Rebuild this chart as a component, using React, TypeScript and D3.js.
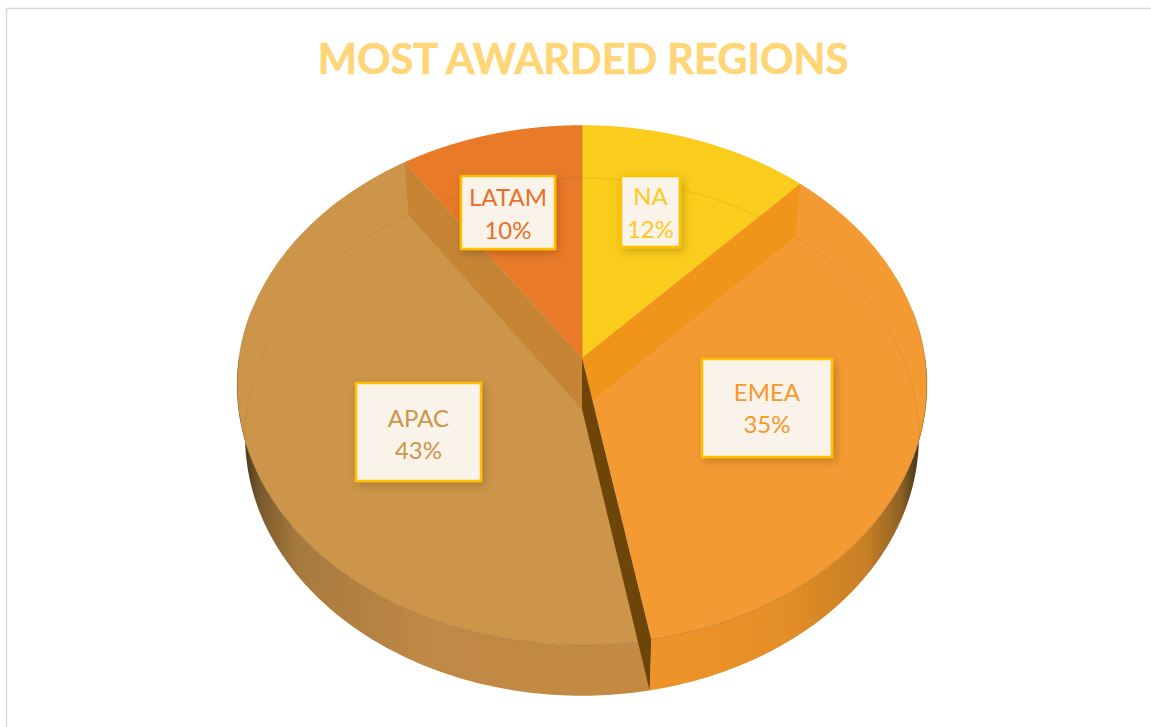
import React from "react";
import * as d3 from "d3";

const categories = ["NA", "EMEA", "APAC", "LATAM"];
const shares = [12, 35.1, 43.4, 9.5];
const sliceColors = ["#FACC1C", "#F49A32", "#CC9549", "#E87A28"];
const textColors = ["#FFC91E", "#F7982C", "#CC9549", "#E8702A"];
const wallColors = ["none", "#F0941A", "#6E4509", "#C68435"];
const title = "MOST AWARDED REGIONS";

// layout of the label boxes: x, y, w, h, two baselines
const labelBoxes = [
  [621, 176, 59, 71, 205, 238],
  [702, 359, 130, 98, 401, 433],
  [356, 383, 125, 98, 427, 459],
  [461, 176, 94, 73, 206, 239],
];

const K = 0.104;
const makeProj = (cx: number, cy: number, b: number, a: number) => (angle: number): [number, number] => {
  const X = Math.sin(angle);
  const Y = -Math.cos(angle);
  const d = 1 - K * Y;
  return [cx + (b * X) / d, cy + (a * Y) / d];
};
const CX = 582;
const topC: [number, number] = [CX, 358];
const botC: [number, number] = [CX, 409];
const topP = makeProj(CX, 358, 343, 257);
const botP = makeProj(CX, 410, 335, 256);

const arcPts = (p: (a: number) => [number, number], a0: number, a1: number) =>
  d3.range(0, 121).map((i) => p(a0 + ((a1 - a0) * i) / 120));

const line = d3.line().curve(d3.curveLinear);
const pieGen = d3.pie<number>().sort(null);
const arcs = pieGen(shares);
const TAU = Math.PI * 2;
const leftA = TAU * 0.75;

export default function App() {
  const [na, emea, apac, latam] = arcs;
  const wall = (a: number) => line([topC, topP(a), botP(a), botC])! + "Z";
  const rim = (a0: number, a1: number) =>
    line([...arcPts(topP, a0, a1), ...arcPts(botP, a1, a0)])! + "Z";
  const slice = (s: d3.PieArcDatum<number>) =>
    line([topC, ...arcPts(topP, s.startAngle, s.endAngle)])! + "Z";
  return (
    <svg
      width={1151}
      height={727}
      style={{ position: "absolute", left: 0, top: 0, display: "block", background: "#fff" }}
    >
      <defs>
        <linearGradient id="rimL" gradientUnits="userSpaceOnUse" x1={240} x2={650} y1={0} y2={0}>
          <stop offset="0" stopColor="#3E3018" />
          <stop offset="0.05" stopColor="#7A5A2C" />
          <stop offset="0.14" stopColor="#A67A3E" />
          <stop offset="0.45" stopColor="#BF8845" />
          <stop offset="1" stopColor="#C48A42" />
        </linearGradient>
        <linearGradient id="rimR" gradientUnits="userSpaceOnUse" x1={650} x2={920} y1={0} y2={0}>
          <stop offset="0" stopColor="#EE9429" />
          <stop offset="0.5" stopColor="#E48E27" />
          <stop offset="0.8" stopColor="#C87F25" />
          <stop offset="0.93" stopColor="#8E6224" />
          <stop offset="1" stopColor="#3E3018" />
        </linearGradient>
        <filter id="sh" x="-20%" y="-20%" width="140%" height="140%">
          <feDropShadow dx="2" dy="3" stdDeviation="4" floodColor="#000" floodOpacity="0.2" />
        </filter>
      </defs>

      <path d="M6.5 727V8.5H1151" fill="none" stroke="#D9D9D9" strokeWidth={1.5} />
      <text
        x={583}
        y={74}
        textAnchor="middle"
        fontFamily="Lato, 'Open Sans', sans-serif"
        fontWeight={700}
        fontSize={41.6}
        fill="#FFD677"
        stroke="#FFD677"
        strokeWidth={0.6}
      >
        {title}
      </text>

      <path d={rim(apac.startAngle, leftA)} fill="url(#rimL)" />
      <path d={rim(TAU * 0.25, emea.endAngle)} fill="url(#rimR)" />

      {arcs.map((s, i) => (
        <path key={categories[i]} d={slice(s)} fill={sliceColors[i]} />
      ))}

      {/* far disc edge seen through the translucent top */}
      <path
        d={line(arcPts(botP, -Math.PI * 0.56, Math.PI * 0.56))!}
        fill="none"
        stroke="#8A5A1E"
        strokeOpacity={0.14}
        strokeWidth={1}
      />
      {/* front edge of the top surface */}
      <path
        d={line(arcPts(topP, TAU * 0.22, TAU * 0.78))!}
        fill="none"
        stroke="#8A5A1E"
        strokeOpacity={0.35}
        strokeWidth={1}
      />

      <path d={wall(emea.startAngle)} fill={wallColors[1]} />
      <path d={wall(latam.startAngle)} fill={wallColors[3]} />
      <path d={wall(apac.startAngle)} fill={wallColors[2]} />
      <path d={line([topC, topP(latam.endAngle)])!} stroke="#B8801F" strokeOpacity={0.5} fill="none" />

      {categories.map((c, i) => {
        const [x, y, w, h, b1, b2] = labelBoxes[i];
        return (
          <g key={c} fontFamily="Lato, 'Open Sans', sans-serif" fontSize={24} textAnchor="middle" fill={textColors[i]}>
            <rect x={x} y={y} width={w} height={h} fill="#F9F3E9" stroke="#FFC000" strokeWidth={2.5} filter="url(#sh)" />
            <text x={x + w / 2} y={b1}>{c}</text>
            <text x={x + w / 2} y={b2}>{Math.round(shares[i])}%</text>
          </g>
        );
      })}
    </svg>
  );
}
